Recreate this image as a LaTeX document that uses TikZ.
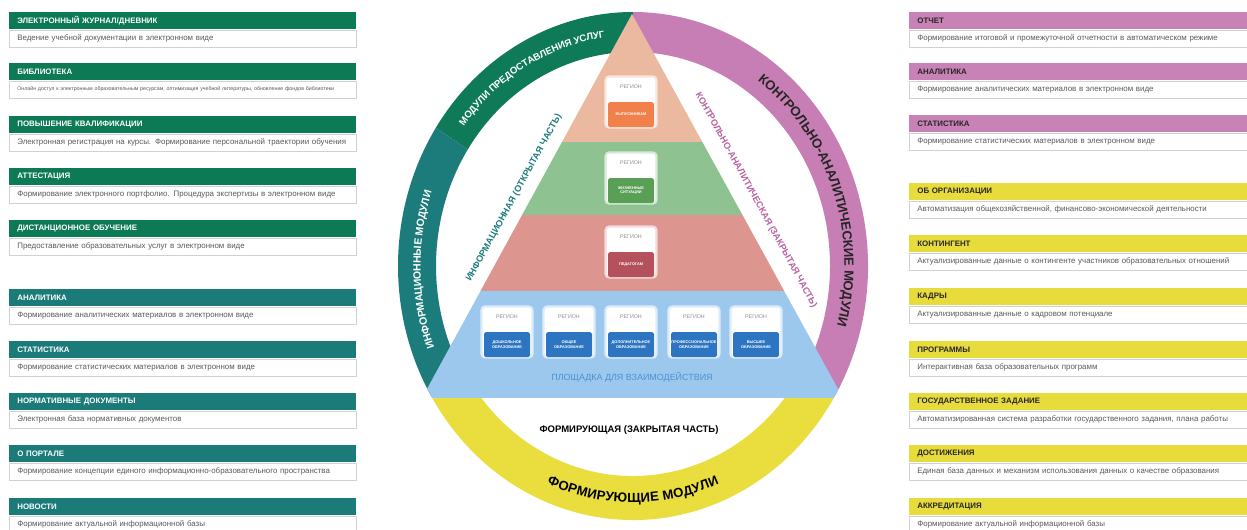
\documentclass[tikz,border=0pt]{standalone}
\usepackage{fontspec}
\setmainfont{Liberation Sans}
\usetikzlibrary{positioning, decorations.text}

\definecolor{leftgreen}{HTML}{0B7A55}
\definecolor{leftteal}{HTML}{1A7B79}
\definecolor{rightpink}{HTML}{C882B6}
\definecolor{rightyellow}{HTML}{E8DC3C}
\definecolor{ringgreen}{HTML}{0E7A57}
\definecolor{ringteal}{HTML}{1C7B7B}
\definecolor{ringpink}{HTML}{C77EB4}
\definecolor{ringyellow}{HTML}{E9DE3E}
\definecolor{pyrpeach}{HTML}{EBB9A0}
\definecolor{pyrgreen}{HTML}{8EC290}
\definecolor{pyrred}{HTML}{DC958F}
\definecolor{pyrblue}{HTML}{9DC8EE}
\definecolor{barorange}{HTML}{F2804B}
\definecolor{bargreen}{HTML}{5A9F56}
\definecolor{barred}{HTML}{B4515D}
\definecolor{barblue}{HTML}{2D75C1}
\definecolor{txtpink}{HTML}{B9619F}
\definecolor{txtblue}{HTML}{4E8FD2}

\tikzset{
  headl/.style={anchor=north west, fill=leftgreen, text=white, font=\bfseries\fontsize{4.5}{5}\selectfont,
    text width=6.62cm, minimum height=0.34cm, inner xsep=0.16cm, inner ysep=0pt, align=left},
  headr/.style={headl, fill=rightpink, text=black!85, text width=6.44cm},
  descl/.style={fill=white, draw=black!18, text=black!65, font=\fontsize{4.5}{5}\selectfont,
    text width=6.62cm, minimum height=0.34cm, inner xsep=0.16cm, inner ysep=0pt, align=left},
  descr/.style={descl, text width=6.44cm},
  card/.style={rectangle, rounded corners=2pt, minimum width=1.02cm, minimum height=1.02cm, fill=white, line width=1.2pt},
  regtext/.style={text=black!45, font=\fontsize{3}{3.5}\selectfont, inner sep=0pt},
  cardbar/.style={rectangle, rounded corners=1pt, minimum width=0.92cm, minimum height=0.5cm, inner sep=0pt,
    text=white, font=\bfseries\fontsize{2.2}{2.8}\selectfont, align=center},
  ringtext/.style={decorate, decoration={text along path, text align=center, raise=-2pt, text color=#1}}
}

\begin{document}
\begin{tikzpicture}[x=0.02cm, y=0.02cm]
    \useasboundingbox (0,0) rectangle (1247,529);
    \fill[white] (0,0) rectangle (1247,529);

    % left column
    \node[headl] (l1) at (9,517) {ЭЛЕКТРОННЫЙ ЖУРНАЛ/ДНЕВНИК};
    \node[descl, below=0pt of l1] (l1d) {Ведение учебной документации в электронном виде};
    \node[headl] (l2) at (9,466) {БИБЛИОТЕКА};
    \node[descl, below=0pt of l2, font=\fontsize{3}{4}\selectfont] (l2d) {Онлайн доступ к электронным образовательным ресурсам, оптимизация учебной литературы, обновление фондов библиотеки};
    \node[headl] (l3) at (9,413) {ПОВЫШЕНИЕ КВАЛИФИКАЦИИ};
    \node[descl, below=0pt of l3] (l3d) {Электронная регистрация на курсы. Формирование персональной траектории обучения};
    \node[headl] (l4) at (9,361) {АТТЕСТАЦИЯ};
    \node[descl, below=0pt of l4] (l4d) {Формирование электронного портфолио. Процедура экспертизы в электронном виде};
    \node[headl] (l5) at (9,309) {ДИСТАНЦИОННОЕ ОБУЧЕНИЕ};
    \node[descl, below=0pt of l5] (l5d) {Предоставление образовательных услуг в электронном виде};
    \node[headl, fill=leftteal] (l6) at (9,240) {АНАЛИТИКА};
    \node[descl, below=0pt of l6] (l6d) {Формирование аналитических материалов в электронном виде};
    \node[headl, fill=leftteal] (l7) at (9,188) {СТАТИСТИКА};
    \node[descl, below=0pt of l7] (l7d) {Формирование статистических материалов в электронном виде};
    \node[headl, fill=leftteal] (l8) at (9,136) {НОРМАТИВНЫЕ ДОКУМЕНТЫ};
    \node[descl, below=0pt of l8] (l8d) {Электронная база нормативных документов};
    \node[headl, fill=leftteal] (l9) at (9,84) {О ПОРТАЛЕ};
    \node[descl, below=0pt of l9] (l9d) {Формирование концепции единого информационно-образовательного пространства};
    \node[headl, fill=leftteal] (l10) at (9,31) {НОВОСТИ};
    \node[descl, below=0pt of l10] (l10d) {Формирование актуальной информационной базы};

    % right column
    \node[headr] (r1) at (909,517) {ОТЧЕТ};
    \node[descr, below=0pt of r1] (r1d) {Формирование итоговой и промежуточной отчетности в автоматическом режиме};
    \node[headr] (r2) at (909,466) {АНАЛИТИКА};
    \node[descr, below=0pt of r2] (r2d) {Формирование аналитических материалов в электронном виде};
    \node[headr] (r3) at (909,414) {СТАТИСТИКА};
    \node[descr, below=0pt of r3] (r3d) {Формирование статистических материалов в электронном виде};
    \node[headr, fill=rightyellow] (r4) at (909,346) {ОБ ОРГАНИЗАЦИИ};
    \node[descr, below=0pt of r4] (r4d) {Автоматизация общехозяйственной, финансово-экономической деятельности};
    \node[headr, fill=rightyellow] (r5) at (909,294) {КОНТИНГЕНТ};
    \node[descr, below=0pt of r5] (r5d) {Актуализированные данные о контингенте участников образовательных отношений};
    \node[headr, fill=rightyellow] (r6) at (909,241) {КАДРЫ};
    \node[descr, below=0pt of r6] (r6d) {Актуализированные данные о кадровом потенциале};
    \node[headr, fill=rightyellow] (r7) at (909,188) {ПРОГРАММЫ};
    \node[descr, below=0pt of r7] (r7d) {Интерактивная база образовательных программ};
    \node[headr, fill=rightyellow] (r8) at (909,136) {ГОСУДАРСТВЕННОЕ ЗАДАНИЕ};
    \node[descr, below=0pt of r8] (r8d) {Автоматизированная система разработки государственного задания, плана работы};
    \node[headr, fill=rightyellow] (r9) at (909,84) {ДОСТИЖЕНИЯ};
    \node[descr, below=0pt of r9] (r9d) {Единая база данных и механизм использования данных о качестве образования};
    \node[headr, fill=rightyellow] (r10) at (909,31) {АККРЕДИТАЦИЯ};
    \node[descr, below=0pt of r10] (r10d) {Формирование актуальной информационной базы};

    % ring of modules
    \begin{scope}[shift={(633,263)}]
        \fill[ringgreen] (90:235 and 254) arc[start angle=90, end angle=147, x radius=235, y radius=254]
            -- (147:197 and 214) arc[start angle=147, end angle=90, x radius=197, y radius=214] -- cycle;
        \fill[ringteal] (147:235 and 254) arc[start angle=147, end angle=211, x radius=235, y radius=254]
            -- (211:197 and 214) arc[start angle=211, end angle=147, x radius=197, y radius=214] -- cycle;
        \fill[ringyellow] (211:235 and 254) arc[start angle=211, end angle=329, x radius=235, y radius=254]
            -- (329:195 and 210) arc[start angle=329, end angle=211, x radius=195, y radius=210] -- cycle;
        \fill[ringpink] (329:235 and 254) arc[start angle=329, end angle=450, x radius=235, y radius=254]
            -- (450:197 and 214) arc[start angle=450, end angle=329, x radius=197, y radius=214] -- cycle;

        \path[ringtext=white, decoration={text={|\bfseries\fontsize{5.5}{6}\selectfont|МОДУЛИ ПРЕДОСТАВЛЕНИЯ УСЛУГ}}]
            (150:216 and 234) arc[start angle=150, end angle=90, x radius=216, y radius=234];
        \path[ringtext=white, decoration={text={|\bfseries\fontsize{6}{7}\selectfont|ИНФОРМАЦИОННЫЕ МОДУЛИ}}]
            (211:216 and 234) arc[start angle=211, end angle=151, x radius=216, y radius=234];
        \path[ringtext=black!85, decoration={raise=-2.6pt, text={|\bfseries\fontsize{7.5}{8}\selectfont|КОНТРОЛЬНО-АНАЛИТИЧЕСКИЕ МОДУЛИ}}]
            (80:216 and 234) arc[start angle=80, end angle=-40, x radius=216, y radius=234];
        \path[ringtext=black, decoration={raise=-2.6pt, text={|\bfseries\fontsize{7.5}{8}\selectfont|ФОРМИРУЮЩИЕ МОДУЛИ}}]
            (220:216 and 232) arc[start angle=220, end angle=320, x radius=216, y radius=232];
    \end{scope}

    % pyramid
    \begin{scope}
        \clip (633,263) ellipse [x radius=235, y radius=254];
        \clip (422,131) -- (632,515) -- (843,131) -- cycle;
        \fill[pyrblue] (400,131) rectangle (870,238);
        \fill[pyrred] (400,238) rectangle (870,314);
        \fill[pyrgreen] (400,314) rectangle (870,387);
        \fill[pyrpeach] (400,387) rectangle (870,529);
    \end{scope}

    \node[rotate=61.3, text=ringteal, font=\bfseries\fontsize{5.2}{6}\selectfont] (opentxt) at (514,331) {ИНФОРМАЦИОННАЯ (ОТКРЫТАЯ ЧАСТЬ)};
    \node[rotate=-61.3, text=txtpink, font=\bfseries\fontsize{5.2}{6}\selectfont] (closedtxt) at (756,329) {КОНТРОЛЬНО-АНАЛИТИЧЕСКАЯ (ЗАКРЫТАЯ ЧАСТЬ)};
    \node[font=\bfseries\fontsize{5.4}{6}\selectfont] (formtxt) at (629,99) {ФОРМИРУЮЩАЯ (ЗАКРЫТАЯ ЧАСТЬ)};
    \node[text=txtblue, font=\fontsize{5.1}{6}\selectfont] (platform) at (632,152) {ПЛОЩАДКА ДЛЯ ВЗАИМОДЕЙСТВИЯ};

    % region cards
    \node[card, draw=pyrpeach!35!white] (peak) at (631,427) {};
    \node[regtext] (peakt) at ([yshift=-0.22cm]peak.north) {РЕГИОН};
    \node[cardbar, fill=barorange] (peakb) at ([yshift=0.28cm]peak.south) {ВЫПУСКНИКАМ};
    \node[card, draw=pyrgreen!35!white] (life) at (631,351) {};
    \node[regtext] (lifet) at ([yshift=-0.22cm]life.north) {РЕГИОН};
    \node[cardbar, fill=bargreen] (lifeb) at ([yshift=0.28cm]life.south) {ЖИЗНЕННЫЕ\\СИТУАЦИИ};
    \node[card, draw=pyrred!35!white] (teach) at (631,277) {};
    \node[regtext] (teacht) at ([yshift=-0.22cm]teach.north) {РЕГИОН};
    \node[cardbar, fill=barred] (teachb) at ([yshift=0.28cm]teach.south) {ПЕДАГОГАМ};

    \node[card, draw=pyrblue!35!white] (edu1) at (507,197) {};
    \node[regtext] (edu1t) at ([yshift=-0.22cm]edu1.north) {РЕГИОН};
    \node[cardbar, fill=barblue] (edu1b) at ([yshift=0.28cm]edu1.south) {ДОШКОЛЬНОЕ\\ОБРАЗОВАНИЕ};
    \node[card, draw=pyrblue!35!white] (edu2) at (569,197) {};
    \node[regtext] (edu2t) at ([yshift=-0.22cm]edu2.north) {РЕГИОН};
    \node[cardbar, fill=barblue] (edu2b) at ([yshift=0.28cm]edu2.south) {ОБЩЕЕ\\ОБРАЗОВАНИЕ};
    \node[card, draw=pyrblue!35!white] (edu3) at (631,197) {};
    \node[regtext] (edu3t) at ([yshift=-0.22cm]edu3.north) {РЕГИОН};
    \node[cardbar, fill=barblue] (edu3b) at ([yshift=0.28cm]edu3.south) {ДОПОЛНИТЕЛЬНОЕ\\ОБРАЗОВАНИЕ};
    \node[card, draw=pyrblue!35!white] (edu4) at (694,197) {};
    \node[regtext] (edu4t) at ([yshift=-0.22cm]edu4.north) {РЕГИОН};
    \node[cardbar, fill=barblue] (edu4b) at ([yshift=0.28cm]edu4.south) {ПРОФЕССИОНАЛЬНОЕ\\ОБРАЗОВАНИЕ};
    \node[card, draw=pyrblue!35!white] (edu5) at (756,197) {};
    \node[regtext] (edu5t) at ([yshift=-0.22cm]edu5.north) {РЕГИОН};
    \node[cardbar, fill=barblue] (edu5b) at ([yshift=0.28cm]edu5.south) {ВЫСШЕЕ\\ОБРАЗОВАНИЕ};
\end{tikzpicture}
\end{document}
